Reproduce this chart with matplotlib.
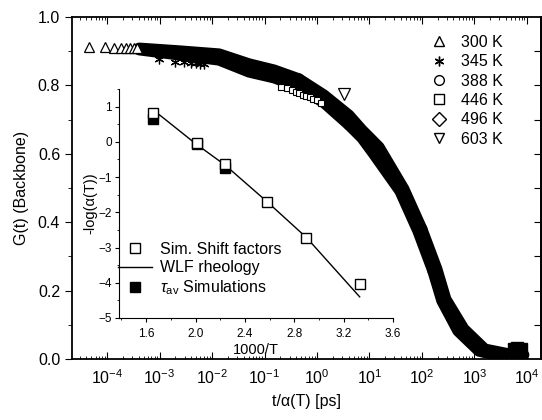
import numpy as np
import matplotlib.pyplot as plt
from matplotlib.ticker import LogLocator, MultipleLocator, NullFormatter

plt.rcParams['font.family'] = ['Liberation Sans', 'DejaVu Sans']
plt.rcParams['mathtext.fontset'] = 'custom'
plt.rcParams['mathtext.rm'] = 'Liberation Sans'
plt.rcParams['mathtext.it'] = 'Liberation Sans:italic'

# master curve G(t) vs t/a(T), one dense track per temperature
t_300 = [4.07e-4, 2.35e-3, 1.36e-2, 5.07e-2, 0.152, 0.454]
G_300 = [0.909, 0.901, 0.892, 0.863, 0.845, 0.819]
t_345 = [4.07e-4, 2.35e-3, 1.36e-2, 5.07e-2, 0.152, 0.454, 1.36, 4.07]
G_345 = [0.904, 0.889, 0.874, 0.839, 0.822, 0.795, 0.749, 0.684]
t_446 = [0.454, 1.36, 4.07, 7.2, 15.2, 45.4, 100]
G_446 = [0.819, 0.772, 0.713, 0.670, 0.620, 0.497, 0.380]
t_388 = [4.07, 7.2, 11.7, 38.1, 83.9, 162]
G_388 = [0.684, 0.646, 0.602, 0.491, 0.374, 0.257]
t_496 = [100, 193, 286, 631, 1585, 4540, 8770]
G_496 = [0.380, 0.263, 0.175, 0.088, 0.029, 0.015, 0.012]
t_603 = [162, 240, 485, 1219, 2930, 6450]
G_603 = [0.257, 0.170, 0.082, 0.023, 0.009, 0.006]

# single symbols that stand out of the band
tm_300 = [4.6e-5, 9.2e-5, 1.38e-4, 1.84e-4, 2.3e-4, 2.76e-4, 3.22e-4, 3.68e-4]
Gm_300 = [0.913, 0.911, 0.910, 0.910, 0.909, 0.909, 0.908, 0.908]
tm_345 = [9.8e-4, 2.0e-3, 2.9e-3, 3.9e-3, 4.9e-3, 5.9e-3, 6.9e-3]
Gm_345 = [0.877, 0.868, 0.867, 0.866, 0.865, 0.864, 0.863]
tm_446 = [0.21, 0.27, 0.33, 0.39, 0.46, 0.53, 0.62, 0.72, 0.85, 1.0, 1.2]
Gm_446 = [0.796, 0.791, 0.786, 0.782, 0.777, 0.773, 0.769, 0.765, 0.760, 0.756, 0.750]
tm_603 = [3.3]
Gm_603 = [0.775]
t_tail = [5.6e3, 6.6e3, 7.6e3]
G_tail = [0.030, 0.032, 0.028]

temps = ['300 K', '345 K', '388 K', '446 K', '496 K', '603 K']
markers = ['^', (6, 2, 0), 'o', 's', 'D', 'v']

# inset: shift factors
invT = [1.658, 2.016, 2.242, 2.577, 2.899, 3.333]
shift = [0.83, -0.03, -0.63, -1.71, -2.74, -4.03]
invT_wlf = [1.66, 2.0, 2.24, 2.58, 2.9, 3.33]
wlf = [0.9, -0.05, -0.66, -1.70, -2.72, -4.40]
invT_tau = [1.658, 2.016, 2.242]
tau = [0.66, -0.06, -0.74]

fig = plt.figure(figsize=(5.42, 4.2), dpi=100)
ax = fig.add_axes([72/542, 1-359/420, 469/542, 342/420])

for t, G in [(t_300, G_300), (t_345, G_345), (t_446, G_446),
             (t_388, G_388), (t_496, G_496), (t_603, G_603)]:
    ax.plot(t, G, color='k', lw=8, solid_capstyle='round', solid_joinstyle='round')

ax.plot(tm_300, Gm_300, ls='none', marker='^', ms=7, mfc='white', mec='k', mew=0.9)
ax.plot(tm_345, Gm_345, ls='none', marker=(6, 2, 0), ms=7, color='k', mew=0.9)
ax.plot(tm_446, Gm_446, ls='none', marker='s', ms=5, mfc='white', mec='k', mew=0.8)
ax.plot(tm_603, Gm_603, ls='none', marker='v', ms=8, mfc='white', mec='k', mew=0.9)
ax.plot(t_tail, G_tail, ls='none', marker='s', ms=8, color='k')

handles = []
for lab, m in zip(temps, markers):
    h, = ax.plot([], [], ls='none', marker=m, ms=7, mfc='white', mec='k', mew=1.0, label=lab)
    handles.append(h)
ax.legend(handles=handles, loc='upper left', bbox_to_anchor=(431/542, 1-35/420),
          bbox_transform=fig.transFigure, frameon=False, fontsize=11.5,
          handlelength=1.0, handletextpad=0.9, labelspacing=0.27,
          borderpad=0, borderaxespad=0)

ax.set_xscale('log')
ax.set_xlim(10**-4.67, 10**4.27)
ax.set_ylim(0, 1.0)
ax.xaxis.set_major_locator(LogLocator(base=10, numticks=20))
ax.xaxis.set_minor_locator(LogLocator(base=10, subs=np.arange(2, 10), numticks=20))
ax.xaxis.set_minor_formatter(NullFormatter())
ax.yaxis.set_minor_locator(MultipleLocator(0.1))
ax.set_yticks([0.0, 0.2, 0.4, 0.6, 0.8, 1.0])
ax.set_yticklabels(['0.0', '0.2', '0.4', '0.6', '0.8', '1.0'])
ax.tick_params(axis='x', which='both', direction='in', top=True, labelsize=11.5, pad=7)
ax.tick_params(axis='x', which='major', length=5)
ax.tick_params(axis='x', which='minor', length=2.5)
ax.tick_params(axis='y', which='both', direction='out', right=False, labelsize=11.5)
ax.tick_params(axis='y', which='major', length=5)
ax.tick_params(axis='y', which='minor', length=3)
sec = ax.secondary_yaxis('right')
sec.set_yticks([0.1, 0.2, 0.3, 0.4, 0.5, 0.6, 0.7, 0.8, 0.9])
sec.tick_params(direction='in', length=5, labelright=False)
sec.spines['right'].set_linewidth(1.3)
for s in ax.spines.values():
    s.set_linewidth(1.3)
ax.set_xlabel('t/α(T) [ps]', fontsize=11.5, labelpad=5)
ax.set_ylabel('G(t) (Backbone)', fontsize=11.5, labelpad=6)

# inset
ins = fig.add_axes([119/542, 1-318/420, 274/542, 229/420], facecolor='none')
ins.plot(invT_wlf, wlf, color='k', lw=1.0, label='WLF rheology')
ins.plot(invT_tau, tau, ls='none', marker='s', ms=7, color='k', label=r'$\tau_{\rm av}$ Simulations')
ins.plot(invT, shift, ls='none', marker='s', ms=7, mfc='white', mec='k', mew=1.0,
         label='Sim. Shift factors')
ins.set_xlim(1.38, 3.6)
ins.set_ylim(-5, 1.5)
ins.spines['top'].set_visible(False)
ins.spines['right'].set_visible(False)
ins.xaxis.set_minor_locator(MultipleLocator(0.2))
ins.yaxis.set_minor_locator(MultipleLocator(0.5))
ins.set_xticks([1.6, 2.0, 2.4, 2.8, 3.2, 3.6])
ins.set_xticklabels(['1.6', '2.0', '2.4', '2.8', '3.2', '3.6'])
ins.set_yticks([-5, -4, -3, -2, -1, 0, 1])
ins.tick_params(which='both', direction='out', labelsize=8.5, pad=2)
ins.tick_params(axis='x', pad=4)
ins.tick_params(which='major', length=3)
ins.tick_params(which='minor', length=1.5)
ins.set_xlabel('1000/T', fontsize=10.5, labelpad=2)
ins.set_ylabel('-log(α(T))', fontsize=10.5, labelpad=1)
h_l, l_l = ins.get_legend_handles_labels()
order = [2, 0, 1]
ins.legend([h_l[i] for i in order], [l_l[i] for i in order], loc='upper left',
           bbox_to_anchor=(118/542, 1-242/420), bbox_transform=fig.transFigure,
           frameon=False, fontsize=11.5, handlelength=2.1, handletextpad=0.5,
           labelspacing=0.2, borderpad=0, borderaxespad=0)

fig.savefig('out.png', dpi=100)
